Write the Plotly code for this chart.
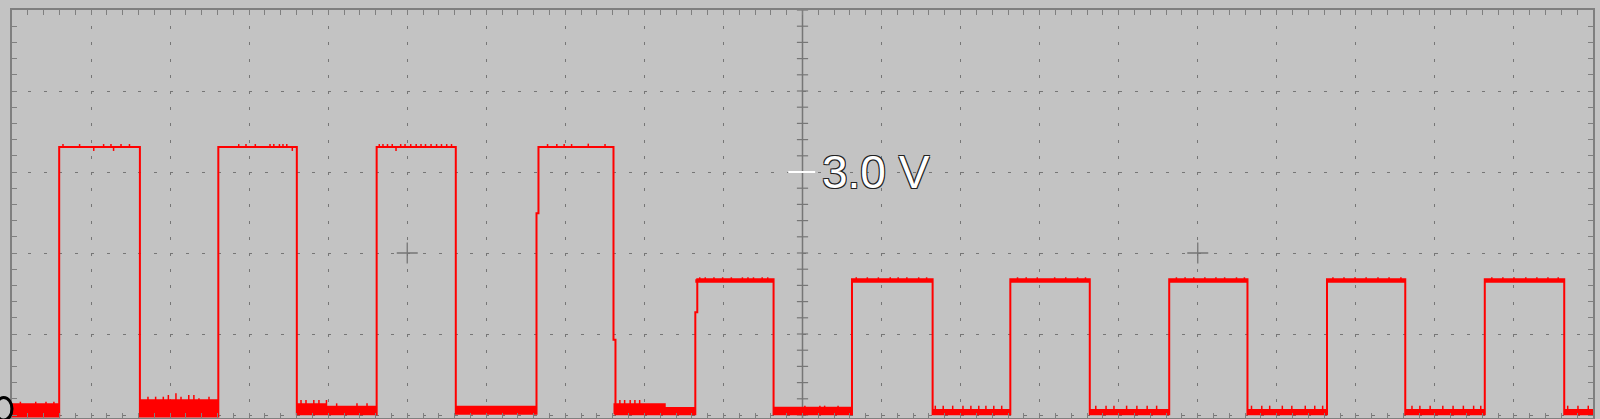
import plotly.graph_objects as go

# time in screen divisions (20 across), voltage in V (1 V/div)
rise_t = [0.597, 2.610, 4.613, 6.635, 8.644, 10.626, 12.629, 14.639, 16.635, 18.631]
fall_t = [1.618, 3.603, 5.614, 7.609, 9.634, 11.646, 13.634, 15.629, 17.625, 19.636]
high_hi = [3.31, 3.31, 3.31, 3.31, 1.675, 1.675, 1.675, 1.675, 1.675, 1.675]
high_lo = [3.31, 3.31, 3.31, 3.31, 1.633, 1.633, 1.633, 1.633, 1.633, 1.633]
rise_step_v = [None, None, None, 2.49, 1.27, None, None, None, None, None]
fall_step_v = [None, None, None, 0.93, None, None, None, None, None, None]

# low-level noise band per gap (before pulse 1 ... after pulse 10)
low_top = [0.144, 0.195, 0.144, 0.115, 0.144, 0.103, 0.075, 0.075, 0.075, 0.075, 0.075]
low_bot = [-0.02, -0.02, 0.009, 0.015, 0.009, 0.009, 0.01, 0.01, 0.01, 0.01, 0.01]
low_split_t = [None, None, 3.98, None, 8.27, None, None, None, None, None, None]
low_top_after = [None, None, 0.115, None, 0.099, None, None, None, None, None, None]

low_spike_t = [0.106, 0.30, 0.43, 0.53,
               1.72, 1.817, 1.914, 1.978, 2.074, 2.138, 2.236, 2.301, 2.365, 2.492,
               3.656, 3.719, 3.818, 3.883, 3.978, 4.107, 4.364, 4.491,
               7.69, 7.75, 7.82, 7.88, 7.94,
               10.03, 10.22, 10.28, 10.45,
               11.68, 11.78, 11.90, 12.03, 12.13, 12.23, 12.32, 12.42, 12.52,
               13.71, 13.84, 13.94, 14.10, 14.23, 14.36, 14.48,
               15.68, 15.81, 15.91, 16.07, 16.19, 16.36, 16.48, 16.58,
               17.71, 17.81, 17.94, 18.10, 18.23, 18.36, 18.49, 18.58,
               19.68, 19.81, 19.94]
low_spike_v = [0.164, 0.164, 0.164, 0.164,
               0.226, 0.226, 0.226, 0.247, 0.268, 0.226, 0.247, 0.247, 0.206, 0.226,
               0.185, 0.185, 0.185, 0.185, 0.185, 0.144, 0.144, 0.144,
               0.185, 0.185, 0.185, 0.185, 0.185,
               0.115, 0.115, 0.115, 0.115,
               0.115, 0.115, 0.115, 0.115, 0.115, 0.115, 0.115, 0.115, 0.115,
               0.115, 0.115, 0.115, 0.115, 0.115, 0.115, 0.115,
               0.115, 0.115, 0.115, 0.115, 0.115, 0.115, 0.115, 0.115,
               0.115, 0.115, 0.115, 0.115, 0.115, 0.115, 0.115, 0.115,
               0.115, 0.115, 0.115]

high_spike_t = [0.645, 0.855, 1.034, 1.159, 1.252, 1.285, 1.379, 1.486,
                2.868, 2.960, 3.078, 3.264, 3.312, 3.383, 3.428, 3.476, 3.546,
                4.646, 4.693, 4.750, 4.810, 4.858, 4.917, 4.972, 5.044, 5.113, 5.174,
                5.231, 5.301, 5.371, 5.433, 5.499, 5.560,
                6.775, 6.892, 6.985, 7.079, 7.290, 7.502,
                8.70, 8.77, 8.88, 8.99, 9.10, 9.24, 9.31, 9.38, 9.49, 9.56,
                10.68, 10.82, 10.96, 11.11, 11.21, 11.32, 11.47, 11.57,
                12.72, 12.83, 12.97, 13.19, 13.33, 13.48, 13.58,
                14.73, 14.84, 14.95, 15.09, 15.23, 15.34, 15.49, 15.59,
                16.71, 16.85, 16.99, 17.13, 17.28, 17.42, 17.57,
                18.72, 18.86, 19.00, 19.15, 19.29, 19.43, 19.56]
high_spike_v = [3.345, 3.345, 3.26, 3.345, 3.345, 3.26, 3.345, 3.345,
                3.345, 3.345, 3.345, 3.345, 3.345, 3.345, 3.345, 3.345, 3.26,
                3.345, 3.345, 3.345, 3.345, 3.26, 3.345, 3.345, 3.345, 3.345, 3.345,
                3.345, 3.345, 3.345, 3.345, 3.345, 3.345,
                3.345, 3.345, 3.345, 3.345, 3.35, 3.345,
                1.70, 1.70, 1.70, 1.70, 1.70, 1.70, 1.70, 1.70, 1.70, 1.70,
                1.70, 1.70, 1.70, 1.70, 1.70, 1.70, 1.70, 1.70,
                1.70, 1.70, 1.70, 1.70, 1.70, 1.70, 1.70,
                1.70, 1.70, 1.70, 1.70, 1.70, 1.70, 1.70, 1.70,
                1.70, 1.70, 1.70, 1.70, 1.70, 1.70, 1.70,
                1.70, 1.70, 1.70, 1.70, 1.70, 1.70, 1.70]

trig_level = 3.0
trig_label = "3.0 V"

X_MAX, Y_MIN, Y_MAX = 20, -0.037, 5.0
STEP = 0.025
RED = "#ff0000"
GRID = "#767676"
FRAME = "#7f7f7f"
BG = "#c3c3c3"

# main trace path
xs, ys = [0.0], [low_bot[0]]
for i in range(len(rise_t)):
    r, f = rise_t[i], fall_t[i]
    xs.append(r); ys.append(low_bot[i])
    if rise_step_v[i] is not None:
        xs += [r, r + STEP]; ys += [rise_step_v[i], rise_step_v[i]]
        r += STEP
    xs += [r, f]; ys += [high_hi[i], high_hi[i]]
    if fall_step_v[i] is not None:
        xs += [f, f + STEP]; ys += [fall_step_v[i], fall_step_v[i]]
        f += STEP
    xs.append(f); ys.append(low_bot[i + 1])
xs.append(X_MAX); ys.append(low_bot[-1])

# noise bands
bx, by = [], []
starts = [0.0] + fall_t
ends = rise_t + [X_MAX]
for i in range(len(low_top)):
    a, b = starts[i], ends[i]
    if low_split_t[i] is None:
        bx += [a, b, b, a, a, None]
        by += [low_bot[i], low_bot[i], low_top[i], low_top[i], low_bot[i], None]
    else:
        s = low_split_t[i]
        bx += [a, b, b, s, s, a, a, None]
        by += [low_bot[i], low_bot[i], low_top_after[i], low_top_after[i],
               low_top[i], low_top[i], low_bot[i], None]
for i in range(len(rise_t)):
    if high_hi[i] != high_lo[i]:
        r, f = rise_t[i], fall_t[i]
        bx += [r, f, f, r, r, None]
        by += [high_lo[i], high_lo[i], high_hi[i], high_hi[i], high_lo[i], None]

# spikes
sx, sy = [], []
for t, v in zip(low_spike_t, low_spike_v):
    sx += [t, t, None]; sy += [0.02, v, None]
for t, v in zip(high_spike_t, high_spike_v):
    i = next(k for k in range(len(rise_t)) if rise_t[k] <= t <= fall_t[k])
    sx += [t, t, None]; sy += [high_hi[i], v, None]

fig = go.Figure()

# centre graticule tick marks
centre_ticks = [round(Y_MAX - 0.2 * k, 2) for k in range(26)]
fig.add_trace(go.Scatter(x=[X_MAX / 2] * len(centre_ticks), y=centre_ticks, mode="markers",
                         marker=dict(symbol="line-ew", size=8, line=dict(color=GRID, width=1.2)),
                         hoverinfo="skip"))
fig.add_trace(go.Scatter(x=[5, 15], y=[2, 2], mode="markers",
                         marker=dict(symbol="cross-thin", size=15, line=dict(color=GRID, width=1.3)),
                         hoverinfo="skip"))

fig.add_trace(go.Scatter(x=bx, y=by, mode="lines", fill="toself", fillcolor=RED,
                         line=dict(width=0, color=RED), hoverinfo="skip"))
fig.add_trace(go.Scatter(x=sx, y=sy, mode="lines", line=dict(color=RED, width=1.5),
                         hoverinfo="skip"))
fig.add_trace(go.Scatter(x=xs, y=ys, mode="lines", line=dict(color=RED, width=2),
                         name="CH1"))

fig.add_shape(type="line", x0=X_MAX / 2, x1=X_MAX / 2, y0=0, y1=1, yref="paper",
              line=dict(color=GRID, width=1.5), layer="below")
# channel ground marker, partly off screen
fig.add_shape(type="circle", xref="paper", yref="paper", x0=-0.0105, x1=0.0, y0=-0.005, y1=0.05,
              line=dict(color="black", width=3))
fig.add_shape(type="line", x0=9.82, x1=10.16, y0=trig_level, y1=trig_level,
              line=dict(color="white", width=2))
fig.add_annotation(x=10.93, y=trig_level, text=trig_label, showarrow=False,
                   xanchor="center", yanchor="middle",
                   font=dict(family="Liberation Sans, Arial", size=46, color="white",
                             shadow="1px 1px 0 #222, -1px -1px 0 #222, 1px -1px 0 #222, -1px 1px 0 #222"))

axis_common = dict(showticklabels=False, zeroline=False, showline=True, linewidth=2,
                   linecolor=FRAME, mirror="ticks", ticks="inside", ticklen=5,
                   tickcolor=FRAME, tickwidth=1, showgrid=True, gridcolor=GRID,
                   gridwidth=1.4)
fig.update_xaxes(range=[0, X_MAX], dtick=1, tick0=0, griddash="3px,13.2px",
                 minor=dict(dtick=0.2, ticks="inside", ticklen=5, tickcolor=FRAME,
                            showgrid=False),
                 **axis_common)
fig.update_yaxes(range=[Y_MIN, Y_MAX], dtick=1, tick0=0, griddash="3px,12.81px",
                 minor=dict(dtick=0.2, ticks="inside", ticklen=5, tickcolor=FRAME,
                            showgrid=False),
                 **axis_common)
fig.update_layout(width=1600, height=419, margin=dict(l=12, r=7, t=10, b=1),
                  paper_bgcolor=BG, plot_bgcolor=BG, showlegend=False)

fig.write_html("out.html", config={"displayModeBar": False},
               post_script="document.body.style.margin='0px';document.body.style.background='%s';" % BG)
